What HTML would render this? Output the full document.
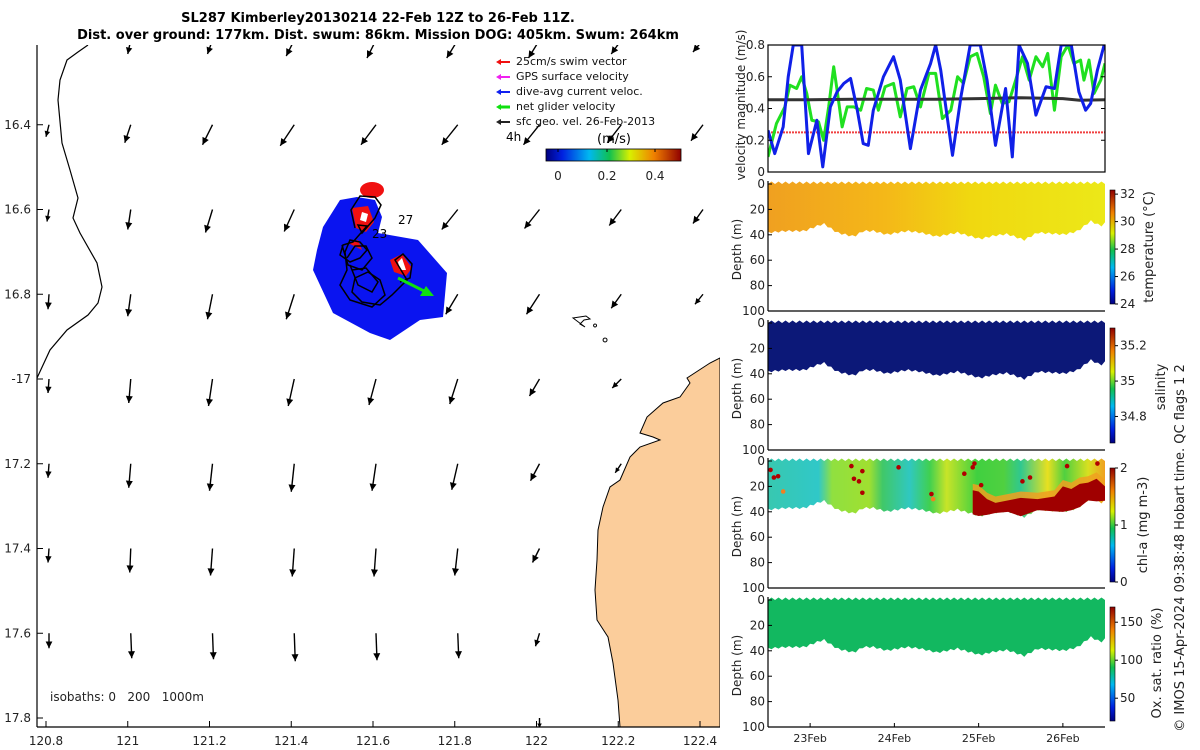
<!DOCTYPE html>
<html><head><meta charset="utf-8"><style>
html,body{margin:0;padding:0;background:#fff;}
svg{display:block;font-family:"DejaVu Sans","Liberation Sans",sans-serif;}
</style></head><body>
<svg id="root" width="1200" height="750" viewBox="0 0 1200 750" xmlns="http://www.w3.org/2000/svg">
<defs>
<linearGradient id="jet" x1="0" y1="1" x2="0" y2="0">
<stop offset="0" stop-color="#000080"/><stop offset="0.12" stop-color="#0020e0"/><stop offset="0.32" stop-color="#00b8f0"/><stop offset="0.47" stop-color="#10c050"/><stop offset="0.62" stop-color="#d8f000"/><stop offset="0.8" stop-color="#f08000"/><stop offset="1" stop-color="#900000"/>
</linearGradient>
<linearGradient id="jeth" x1="0" y1="0" x2="1" y2="0">
<stop offset="0" stop-color="#000080"/><stop offset="0.12" stop-color="#0020e0"/><stop offset="0.32" stop-color="#00b8f0"/><stop offset="0.47" stop-color="#10c050"/><stop offset="0.62" stop-color="#d8f000"/><stop offset="0.8" stop-color="#f08000"/><stop offset="1" stop-color="#900000"/>
</linearGradient>
<linearGradient id="tempg" x1="0" y1="0" x2="1" y2="0">
<stop offset="0" stop-color="#f0a020"/><stop offset="0.35" stop-color="#f4b818"/><stop offset="0.6" stop-color="#f0d810"/><stop offset="1" stop-color="#ece818"/>
</linearGradient>
<linearGradient id="chlg" x1="0" y1="0" x2="1" y2="0">
<stop offset="0" stop-color="#38c8b0"/><stop offset="0.15" stop-color="#30c8c8"/><stop offset="0.19" stop-color="#90e040"/><stop offset="0.3" stop-color="#a0e030"/><stop offset="0.34" stop-color="#40c868"/><stop offset="0.42" stop-color="#30c8c0"/><stop offset="0.48" stop-color="#40d050"/><stop offset="0.53" stop-color="#c8e428"/><stop offset="0.62" stop-color="#40d040"/><stop offset="0.7" stop-color="#50d040"/><stop offset="0.75" stop-color="#30c890"/><stop offset="0.83" stop-color="#e8e020"/><stop offset="0.88" stop-color="#50d040"/><stop offset="0.95" stop-color="#d8e020"/><stop offset="1" stop-color="#f0a020"/>
</linearGradient>
<clipPath id="mapclip"><rect x="37" y="45" width="683" height="682"/></clipPath>
<clipPath id="velclip"><rect x="768" y="45" width="337" height="127"/></clipPath>
</defs>
<g id="map"></g>
<g id="right"></g>
</svg>
<script>
// ---------- MAP DATA ----------
const arrowLats = [16.2,16.4,16.6,16.8,17.0,17.2,17.4,17.6,17.8];
const arrowLons = [120.8,121,121.2,121.4,121.6,121.8,122,122.2,122.4];
const arrowU = [
 [0,-3,-5,-8,-9,-11,-11,-10,-10],
 [-3,-6,-10,-14,-15,-16,-16,-14,-12],
 [-2,-3,-7,-10,-12,-16,-15,-12,-10],
 [-1,-3,-5,-8,-10,-12,-13,-10,-8],
 [-1,-2,-4,-6,-7,-8,-10,-9,0],
 [-1,-2,-3,-3,-4,-6,-9,-6,0],
 [-1,-1,-2,-2,-2,-3,-7,0,0],
 [0,1,1,1,1,1,-4,0,0],
 [0,0,0,0,0,0,0,0,0]];
const arrowV = [
 [2,14,14,16,18,18,18,14,12],
 [12,18,20,21,20,20,20,18,16],
 [12,20,23,22,20,20,19,16,14],
 [15,22,25,25,22,20,20,14,10],
 [14,24,27,27,26,25,17,9,0],
 [14,24,27,28,27,26,17,9,0],
 [14,24,27,28,28,27,14,0,0],
 [15,25,26,28,27,25,13,0,0],
 [0,0,0,0,0,0,10,0,0]];
const lonTicks = [120.8,121,121.2,121.4,121.6,121.8,122,122.2,122.4];
const lonTickLabels = ["120.8","121","121.2","121.4","121.6","121.8","122","122.2","122.4"];
const latTicks = [16.4,16.6,16.8,17.0,17.2,17.4,17.6,17.8];
const latTickLabels = ["16.4","16.6","16.8","-17","17.2","17.4","17.6","17.8"];

// ---------- VELOCITY DATA ----------
const blueT = [22.50,22.58,22.68,22.74,22.80,22.90,22.98,23.08,23.15,23.24,23.32,23.40,23.48,23.56,23.63,23.69,23.75,23.87,23.99,24.07,24.19,24.31,24.43,24.49,24.55,24.69,24.79,24.90,25.02,25.10,25.20,25.32,25.40,25.48,25.58,25.68,25.80,25.90,25.98,26.10,26.19,26.27,26.33,26.41,26.49];
const blueV = [0.263,0.116,0.284,0.60,0.80,0.80,0.116,0.326,0.032,0.41,0.505,0.558,0.589,0.389,0.179,0.168,0.389,0.60,0.726,0.579,0.147,0.516,0.684,0.80,0.642,0.105,0.474,0.80,0.80,0.579,0.168,0.526,0.095,0.80,0.684,0.358,0.537,0.526,0.80,0.80,0.505,0.389,0.432,0.642,0.80];
const greenT = [22.50,22.60,22.70,22.76,22.84,22.90,22.96,23.02,23.10,23.16,23.22,23.28,23.32,23.38,23.44,23.52,23.60,23.67,23.75,23.81,23.89,23.99,24.07,24.15,24.23,24.31,24.41,24.49,24.57,24.67,24.75,24.82,24.90,24.98,25.06,25.14,25.20,25.28,25.36,25.44,25.52,25.60,25.68,25.76,25.82,25.90,25.98,26.06,26.13,26.21,26.25,26.31,26.37,26.45,26.50];
const greenV = [0.095,0.305,0.41,0.547,0.526,0.60,0.495,0.326,0.316,0.20,0.41,0.663,0.516,0.284,0.41,0.41,0.389,0.526,0.516,0.389,0.537,0.558,0.347,0.526,0.537,0.41,0.621,0.621,0.337,0.389,0.60,0.558,0.726,0.747,0.60,0.368,0.547,0.432,0.442,0.579,0.726,0.579,0.726,0.663,0.747,0.389,0.726,0.80,0.684,0.705,0.579,0.705,0.495,0.579,0.684];
const geoT = [22.5,23,23.5,24,24.5,25,25.5,26,26.2,26.5];
const geoV = [0.455,0.455,0.458,0.458,0.458,0.462,0.468,0.462,0.452,0.455];
const swimT = [22.5,26.5];
const swimV = [0.25,0.25];
const velTicks = [0,0.2,0.4,0.6,0.8];
const dateTicks = [23,24,25,26];
const dateLabels = ["23Feb","24Feb","25Feb","26Feb"];
const depthTicks = [0,20,40,60,80,100];

// ---------- SECTION DATA ----------
const bottomT = [22.50,22.72,22.94,22.98,23.16,23.32,23.52,23.63,23.75,23.91,24.15,24.31,24.51,24.75,25.02,25.18,25.34,25.54,25.70,26.02,26.18,26.33,26.45,26.51];
const bottomD = [37.5,36.2,36.2,34.9,30.4,37.5,40.6,36.2,36.2,39.0,36.2,37.5,40.6,37.5,42.5,39.9,38.6,43.3,37.5,39.0,36.2,28.3,32.3,29.7];
const chlRedT = [24.93,25.0,25.1,25.2,25.35,25.5,25.7,25.9,26.0,26.1,26.2,26.3,26.4,26.5];
const chlRedTop = [23,24,30,33,31,29,30,28,20,22,18,17,14,20];
const chlDotT = [22.53,22.57,22.62,22.68,23.49,23.52,23.62,23.62,23.58,24.05,24.44,24.46,24.83,24.93,24.95,25.03,25.52,25.61,26.05,26.41];
const chlDotD = [7,13,12,24,4,14,8,25,16,5,26,30,10,5,2,19,16,13,4,2];
const chlDotC = [2,2,2,1.7,2,2,2,2,2,2,2,1.7,2,2,2,2,2,2,2,2];
const tempCbTicks=[24,26,28,30,32], salCbTicks=[34.8,35,35.2], chlCbTicks=[0,1,2], oxCbTicks=[50,100,150];

const NS="http://www.w3.org/2000/svg";
function mk(tag, attrs, parent, text){
  const e=document.createElementNS(NS,tag);
  for(const k in attrs) e.setAttribute(k,attrs[k]);
  if(text!==undefined) e.textContent=text;
  parent.appendChild(e); return e;
}
const map=document.getElementById('map');
const right=document.getElementById('right');
const lonX = lon => 46 + (lon-120.8)/0.2*81.75;
const latY = lat => 40 + (lat-16.2)/0.2*84.75;

let t1=mk('text',{x:378,y:22,'text-anchor':'middle','font-size':'13','font-weight':'bold'},map,'SL287 Kimberley20130214 22-Feb 12Z to 26-Feb 11Z.');


let t2=mk('text',{x:378,y:39,'text-anchor':'middle','font-size':'13','font-weight':'bold'},map,'Dist. over ground: 177km. Dist. swum: 86km. Mission DOG: 405km. Swum: 264km');



const mg=mk('g',{'clip-path':'url(#mapclip)'},map);


const land=mk('polygon',{points:"720,358 710,363 687,378 690,383 680,397 663,403 647,417 640,433 653,437 660,440 640,447 630,457 620,480 610,487 603,507 598,530 597,560 595,590 597,620 608,637 613,663 618,700 620,727 720,727",fill:'#fbcd9b',stroke:'#000','stroke-width':'1'},mg);


const isl=mk('path',{d:"M573,318 L586,316 L590,319 L584,320 L580,324 L585,327 Z M595,324 a1.5,1.5 0 1,0 0.1,0 M605,338 a2,2 0 1,0 0.1,0",fill:'none',stroke:'#000','stroke-width':'1'},mg);


const iso=mk('polyline',{points:"88,45 78,52 67,60 60,80 58,100 62,143 70,170 78,198 73,218 80,233 97,263 102,287 98,303 88,315 67,330 50,350 37,378",fill:'none',stroke:'#000','stroke-width':'1.2'},mg);


for(let r=0;r<arrowLats.length;r++){
  for(let c=0;c<arrowLons.length;c++){
    const u=arrowU[r][c], v=arrowV[r][c];
    const x0=lonX(arrowLons[c])+3, y0=latY(arrowLats[r]);
    const len=Math.hypot(u,v);
    if(len<0.5) continue;
    const x1=x0+u, y1=y0+v;
    const ux=u/len, uy=v/len, h=Math.min(7,len*0.45);
    const g=mk('g',{},mg);
    
    
    mk('line',{x1:x0,y1:y0,x2:x1,y2:y1,stroke:'#000','stroke-width':'1.4'},g);
    mk('polygon',{points:`${x1},${y1} ${x1-ux*h-uy*h*0.5},${y1-uy*h+ux*h*0.5} ${x1-ux*h+uy*h*0.5},${y1-uy*h-ux*h*0.5}`,fill:'#000'},g);
  }
}
const trk=mk('g',{},mg);


mk('polygon',{points:"340,200 357,197 375,200 382,217 378,233 418,240 447,273 443,317 420,320 390,340 370,333 333,313 313,270 317,250 323,227",fill:'#0a14f0'},trk);
mk('ellipse',{cx:372,cy:190,rx:12,ry:8,fill:'#f01010'},trk);
mk('polygon',{points:"352,208 368,206 374,222 366,232 356,228",fill:'#f01010'},trk);
mk('polygon',{points:"362,212 368,214 366,222 360,220",fill:'#fff'},trk);
mk('polygon',{points:"390,260 402,254 412,268 406,276 394,272",fill:'#f01010'},trk);
mk('polygon',{points:"398,262 402,258 406,270 400,270",fill:'#fff'},trk);
mk('polygon',{points:"348,243 358,240 362,250",fill:'#f01010'},trk);
mk('polyline',{points:"355,228 351,210 360,196 375,197 381,205 375,218 362,233 358,225 367,226 353,242 343,245 340,255 350,262 360,258 367,250 360,242 350,240 345,252 347,270 340,285 350,300 372,307 385,295 380,280 368,272 355,278 352,292 362,302 380,305 392,295 407,280 395,260 403,254 412,264 410,278 400,282",fill:'none',stroke:'#000','stroke-width':'1.5'},trk);
mk('polyline',{points:"342,245 348,265 362,270 372,258 366,246 355,246 347,258",fill:'none',stroke:'#000','stroke-width':'1.5'},trk);
mk('polyline',{points:"350,265 358,285 372,292 378,282 366,268 352,270",fill:'none',stroke:'#000','stroke-width':'1.5'},trk);
mk('line',{x1:398,y1:278,x2:428,y2:293,stroke:'#10e010','stroke-width':'3'},trk);
mk('polygon',{points:"434,296 420,296 426,286",fill:'#10e010'},trk);
let l27=mk('text',{x:398,y:224,'font-size':'12'},map,'27');
 
let l23=mk('text',{x:372,y:238,'font-size':'12'},map,'23');
 
mk('line',{x1:37,y1:45,x2:37,y2:727,stroke:'#000','stroke-width':'1.2'},map);
mk('line',{x1:37,y1:727,x2:720,y2:727,stroke:'#000','stroke-width':'1.2'},map);
lonTicks.forEach((lon,i)=>{
  const x=lonX(lon);
  mk('line',{x1:x,y1:727,x2:x,y2:721,stroke:'#000'},map);
  const t=mk('text',{x:x,y:745,'text-anchor':'middle','font-size':'12',fill:'#222'},map,lonTickLabels[i]);
   
});
latTicks.forEach((lat,i)=>{
  const y=latY(lat);
  mk('line',{x1:37,y1:y,x2:43,y2:y,stroke:'#000'},map);
  const t=mk('text',{x:31,y:y+4,'text-anchor':'end','font-size':'12',fill:'#222'},map,latTickLabels[i]);
   
});
let isoT=mk('text',{x:50,y:701,'font-size':'12',fill:'#222',style:'white-space:pre'},map,'isobaths: 0   200   1000m');
 
const leg=mk('g',{},map);


[['#f01010','25cm/s swim vector'],['#f020f0','GPS surface velocity'],['#1020f0','dive-avg current veloc.'],['#10e010','net glider velocity'],['#222','sfc geo. vel. 26-Feb-2013']].forEach((e,i)=>{
  const y=61+i*15;
  mk('line',{x1:498,y1:y+1,x2:510,y2:y+1,stroke:e[0],'stroke-width':i==3?3:2},leg);
  mk('polygon',{points:`496,${y+1} 501,${y-2} 501,${y+4}`,fill:e[0]},leg);
  const t=mk('text',{x:516,y:y+4,'font-size':'11',fill:'#111'},leg,e[1]);
   
});
mk('text',{x:506,y:141,'font-size':'12'},map,'4h');
mk('text',{x:614,y:143,'text-anchor':'middle','font-size':'13'},map,'(m/s)');
const cb=mk('rect',{x:546,y:149,width:135,height:12,fill:'url(#jeth)',stroke:'#000','stroke-width':'0.8'},map);
 
[[558,'0'],[607,'0.2'],[655,'0.4']].forEach(a=>{
  mk('line',{x1:a[0],y1:149,x2:a[0],y2:152,stroke:'#000'},map);
  mk('text',{x:a[0],y:180,'text-anchor':'middle','font-size':'12',fill:'#222'},map,a[1]);
});

// ---------- RIGHT PANELS ----------
const X0=768, X1=1105;
const tX = t => X0 + (t-22.5)/4*(X1-X0);
const velY = v => 172 - v/0.8*127;
const vp=mk('g',{},right);


const vc=mk('g',{'clip-path':'url(#velclip)'},vp);
function series(T,V,color,w,name,dash){
  const p=mk('polyline',{points:T.map((t,i)=>tX(t)+','+velY(V[i])).join(' '),fill:'none',stroke:color,'stroke-width':w,'stroke-linejoin':'round'},vc);
  if(dash) p.setAttribute('stroke-dasharray',dash);
  
  
}
series(swimT,swimV,'#f04040',2,'swim-speed-line','2,1');
series(greenT,greenV,'#20e020',3,'net-glider-velocity-line');
series(geoT,geoV,'#333',3,'geo-velocity-line');
series(blueT,blueV,'#1020e8',3,'dive-avg-current-line');
mk('rect',{x:X0,y:45,width:X1-X0,height:127,fill:'none',stroke:'#000','stroke-width':'1.2'},vp);
velTicks.forEach(v=>{
  const y=velY(v);
  mk('line',{x1:X0,y1:y,x2:X0+4,y2:y,stroke:'#000'},vp);
  mk('line',{x1:X1,y1:y,x2:X1-4,y2:y,stroke:'#000'},vp);
  mk('text',{x:765,y:y+4,'text-anchor':'end','font-size':'12',fill:'#222'},vp,v===0?'0':v.toFixed(1));
});
let vl=mk('text',{x:0,y:0,'text-anchor':'middle','font-size':'12',fill:'#222',transform:'translate(745,105) rotate(-90)'},vp,'velocity magnitude (m/s)');
 

function interpBottom(t){
  for(let i=0;i<bottomT.length-1;i++){ if(t<=bottomT[i+1]) { const f=(t-bottomT[i])/(bottomT[i+1]-bottomT[i]); return bottomD[i]+f*(bottomD[i+1]-bottomD[i]); } }
  return bottomD[bottomD.length-1];
}
function section(y0,fill,name,cbTicks,cbMin,cbMax,cbTop,cbBot,label,extra){
  const g=mk('g',{},right);
  
  
  const dY=d=>y0+d*1.27;
  let top=[],bot=[];
  const N=96;
  for(let k=0;k<=N;k++){
    const t=22.5+4*k/N;
    top.push(tX(t)+','+(dY(0)-(k%2?2.5:0)));
  }
  for(let k=N;k>=0;k--){
    const t=22.5+4*k/N;
    bot.push(tX(t)+','+(dY(interpBottom(t))+(k%2?2:0)));
  }
  const p=mk('polygon',{points:top.concat(bot).join(' '),fill:fill},g);
  
  
  if(extra) extra(g,dY);
  mk('line',{x1:X0,y1:dY(0)-3,x2:X0,y2:dY(100),stroke:'#000','stroke-width':'1.2'},g);
  mk('line',{x1:X0,y1:dY(100),x2:X1,y2:dY(100),stroke:'#000','stroke-width':'1.2'},g);
  depthTicks.forEach(d=>{
    mk('line',{x1:X0,y1:dY(d),x2:X0+4,y2:dY(d),stroke:'#000'},g);
    mk('text',{x:765,y:dY(d)+4,'text-anchor':'end','font-size':'12',fill:'#222'},g,String(d));
  });
  const yl=mk('text',{x:0,y:0,'text-anchor':'middle','font-size':'12',fill:'#222',transform:`translate(741,${dY(50)+2}) rotate(-90)`},g,'Depth (m)');
   
  const c=mk('rect',{x:1110,y:cbTop,width:5,height:cbBot-cbTop,fill:'url(#jet)',stroke:'#000','stroke-width':'0.6'},g);
   
  cbTicks.forEach(v=>{
    const y=cbBot-(v-cbMin)/(cbMax-cbMin)*(cbBot-cbTop);
    mk('line',{x1:1115,y1:y,x2:1118,y2:y,stroke:'#000'},g);
    mk('text',{x:1120,y:y+4,'font-size':'12',fill:'#222'},g,String(v));
  });
  label.forEach(L=>{
    const t=mk('text',{x:0,y:0,'text-anchor':'middle','font-size':'13',fill:'#222',transform:`translate(${L[1]},${L[2]}) rotate(-90)`},g,L[0]);
     
  });
}
section(184,'url(#tempg)','temperature-section',tempCbTicks,24,32.3,190,304,[['temperature (°C)',1153,247]]);
section(323,'#0c1878','salinity-section',salCbTicks,34.65,35.3,328,443,[['salinity',1165,387]]);
section(461,'url(#chlg)','chlorophyll-section',chlCbTicks,0,2,468,582,[['chl-a (mg m-3)',1147,525]],(g,dY)=>{
  let pts=chlRedT.map((t,i)=>tX(t)+','+dY(chlRedTop[i]-5));
  for(let i=chlRedT.length-1;i>=0;i--) pts.push(tX(chlRedT[i])+','+dY(interpBottom(chlRedT[i])));
  mk('polygon',{points:pts.join(' '),fill:'#f0a020',opacity:0.85},g);
  let pts2=chlRedT.map((t,i)=>tX(t)+','+dY(chlRedTop[i]));
  for(let i=chlRedT.length-1;i>=0;i--) pts2.push(tX(chlRedT[i])+','+(dY(interpBottom(chlRedT[i]))+1.5));
  const r=mk('polygon',{points:pts2.join(' '),fill:'#a00000'},g);
   
  chlDotT.forEach((t,i)=>{
    const d=mk('circle',{cx:tX(t),cy:dY(chlDotD[i]),r:2.3,fill:chlDotC[i]>=2?'#b00000':'#f08020'},g);
    
    
  });
});
section(600,'#12b860','oxygen-section',oxCbTicks,20,170,607,721,[['Ox. sat. ratio (%)',1161,663]]);
dateTicks.forEach((d,i)=>{
  const x=tX(d);
  mk('line',{x1:x,y1:727,x2:x,y2:723,stroke:'#000'},right);
  const t=mk('text',{x:x,y:742,'text-anchor':'middle','font-size':'11',fill:'#222'},right,dateLabels[i]);
   
});
const cr=mk('text',{x:0,y:0,'text-anchor':'middle','font-size':'13',fill:'#222',transform:'translate(1184,548) rotate(-90)'},right,'© IMOS 15-Apr-2024 09:38:48 Hobart time. QC flags 1  2');
 
</script>
</body></html>
